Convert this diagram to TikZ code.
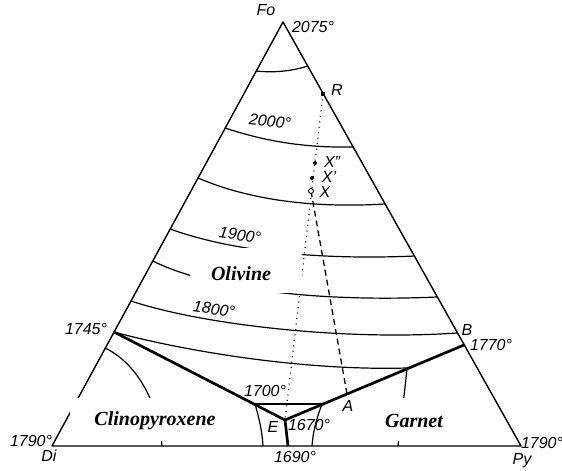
\documentclass[tikz,border=0pt]{standalone}
\usepackage{fontspec}
\setmainfont{Liberation Serif}
\setsansfont{Liberation Sans}
\usetikzlibrary{calc}

\begin{document}
\begin{tikzpicture}[x=1pt, y=-1pt, line join=round]

    % Styles for the phase diagram
    \tikzset{
        side/.style={line width=1.4pt},
        iso/.style={line width=1.2pt},
        bound/.style={line width=2.7pt},
        temp/.style={font=\sffamily\itshape\fontsize{16}{16}\selectfont, inner sep=0pt},
        field/.style={font=\bfseries\itshape\fontsize{20}{20}\selectfont, inner sep=0pt},
        mask/.style={fill=white, draw=none}
    }
    \useasboundingbox (0,0) rectangle (562,471);

    % ==========================================
    % Corners and special points
    % ==========================================
    \coordinate (Fo) at (283,22);
    \coordinate (Di) at (52,446);
    \coordinate (Py) at (521,446);
    \coordinate (R) at (323,94);
    \coordinate (X2) at (315,163);
    \coordinate (X1) at (312,178);
    \coordinate (X) at (311,191);
    \coordinate (P) at (114,332);
    \coordinate (E) at (285,420);
    \coordinate (Eb) at (288,446);
    \coordinate (J1) at (255,404);
    \coordinate (J2) at (322,404);
    \coordinate (A) at (347,394);
    \coordinate (G) at (407,368);
    \coordinate (B) at (464,345);

    % Triangle
    \draw[side] (Di) -- (Fo) -- (Py) -- cycle;

    % ==========================================
    % Isotherms in the olivine field
    % ==========================================
    \draw[iso] (256,71) .. controls (275,73) and (292,71) .. (308,66);
    \draw[iso] (225,128) .. controls (262,140) and (300,148) .. (353,147);
    \draw[iso] (198,178) .. controls (240,196) and (300,209) .. (385,204);
    \draw[iso] (170,229) .. controls (220,247) and (300,261) .. (415,256);
    \draw[iso] (153,261) .. controls (200,285) and (300,303) .. (437,297);
    \draw[iso] (131,301) .. controls (200,324) and (340,341) .. (457,333);
    \draw[iso] (P) .. controls (180,350) and (300,371) .. (G);

    % Isotherms near the eutectic
    \draw[iso] (J1) -- (J2);
    \draw[iso] (J1) .. controls (259,418) and (262,430) .. (263,446);
    \draw[iso] (J2) .. controls (316,420) and (313,432) .. (312,446);
    \draw[iso] (105,348) .. controls (135,362) and (158,400) .. (162,446);
    \draw[iso] (G) .. controls (405,390) and (401,420) .. (398,446);

    % Field boundaries
    \draw[bound] (P) -- (E) -- (B);
    \draw[bound] (E) -- (Eb);

    % Paths of crystallisation
    \draw[line width=1.2pt, dash pattern=on 1pt off 4.5pt] (R) -- (E);
    \draw[line width=1.3pt, dash pattern=on 6pt off 4pt] (X) -- (A);

    % Points
    \fill ($(R)+(-2,-2)$) rectangle ($(R)+(2,2)$);
    \fill (X2) circle (2pt);
    \fill (X1) circle (2pt);
    \draw[line width=0.9pt, fill=white] (X) circle (2.5pt);

    % ==========================================
    % Field names
    % ==========================================
    \path[mask] (190,248) rectangle (302,293);
    \path[mask] (70,398) rectangle (240,441);
    \path[mask] (372,398) rectangle (462,441);
    \node[field] (olivine) at (241,274) {Olivine};
    \node[field] (cpx) at (155,421) {Clinopyroxene};
    \node[field] (garnet) at (414,421) {Garnet};

    % ==========================================
    % Temperatures and letters
    % ==========================================
    \node[temp] (tFo) at (313,27) {2075°};
    \node[temp, rotate=-6] (t2000) at (270,121) {2000°};
    \node[temp, rotate=-8] (t1900) at (240,235) {1900°};
    \node[temp, rotate=-8] (t1800) at (214,309) {1800°};
    \node[temp] (t1745) at (86,329) {1745°};
    \node[temp] (t1700) at (265,391) {1700°};
    \node[temp] (t1670) at (309,425) {1670°};
    \node[temp] (t1690) at (295,457) {1690°};
    \node[temp] (t1770) at (491,345) {1770°};
    \node[temp] (tDi) at (31,441) {1790°};
    \node[temp] (tPy) at (542,443) {1790°};

    \node[temp] (lFo) at (266,10) {Fo};
    \node[temp] (lDi) at (49,456) {Di};
    \node[temp] (lPy) at (522,461) {Py};
    \node[temp] (lR) at (337,90) {R};
    \node[temp] (lB) at (467,330) {B};
    \node[temp] (lA) at (348,406) {A};
    \node[temp] (lE) at (273,427) {E};
    \node[temp] (lX2) at (332,162) {X''};
    \node[temp] (lX1) at (329,177) {X'};
    \node[temp] (lX) at (325,192) {X};

\end{tikzpicture}
\end{document}
